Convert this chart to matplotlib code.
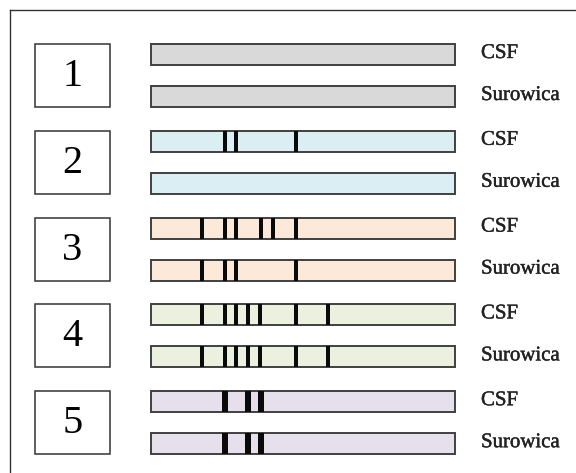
import matplotlib.pyplot as plt
import matplotlib.patheffects as pe
from matplotlib.patches import Rectangle

# grupy (wzory prążków oligoklonalnych)
grupy = ['1', '2', '3', '4', '5']
probki = ['CSF', 'Surowica']
kolory = ['#d9d9d9', '#dbeef4', '#fde9d9', '#ebf1de', '#e5e0ec']

# pozycje prążków wzdłuż ścieżki (jednostki obrazka)
prazki_csf = [
    [],
    [225, 236, 296],
    [202, 225, 236, 261, 273, 296],
    [202, 225, 236, 248, 260, 296, 328],
    [225, 248, 261],
]
prazki_surowica = [
    [],
    [],
    [202, 225, 236, 296],
    [202, 225, 236, 248, 260, 296, 328],
    [225, 248, 261],
]
# grupa 5 ma grubsze prążki
grubosc_prazka = [4, 4, 4, 4, 6.5]

font = ['Liberation Serif', 'DejaVu Serif']
pogrub = [pe.withStroke(linewidth=0.3, foreground='#222222')]

fig = plt.figure(figsize=(5.76, 4.73), dpi=100)
ax = fig.add_axes([0, 0, 1, 1])
ax.set_xlim(0, 576)
ax.set_ylim(473, 0)
ax.axis('off')

# ramka zewnętrzna (widoczna tylko góra i lewa strona)
ax.plot([10, 576], [10, 10], color='#333333', linewidth=1.0)
ax.plot([10, 10], [10, 473], color='#333333', linewidth=1.0)

start = 151
dlugosc = 304
wys = 21
krok = 86.8
odstep = 42

for g, nazwa in enumerate(grupy):
    gora = 44 + g * krok
    # ramka z numerem
    ax.add_patch(Rectangle((35, gora), 75, odstep + wys, fill=False,
                           edgecolor='#333333', linewidth=1.1))
    ax.text(72.5, gora + (odstep + wys) / 2 + 1, nazwa, ha='center', va='center',
            fontsize=29, family=font)
    for s, (probka, prazki) in enumerate(zip(probki, [prazki_csf[g], prazki_surowica[g]])):
        y = gora + s * odstep
        ax.bar(start, wys, width=dlugosc, bottom=y, align='edge',
               color=kolory[g], edgecolor='#404040', linewidth=1.4)
        if prazki:
            ax.bar(prazki, wys, width=grubosc_prazka[g], bottom=y,
                   color='#0a0a0a', linewidth=0)
        ax.text(481, y + wys / 2 - 1, probka, ha='left', va='center',
                fontsize=15, family=font, color='#222222', path_effects=pogrub)

fig.savefig('out.png', dpi=100)
